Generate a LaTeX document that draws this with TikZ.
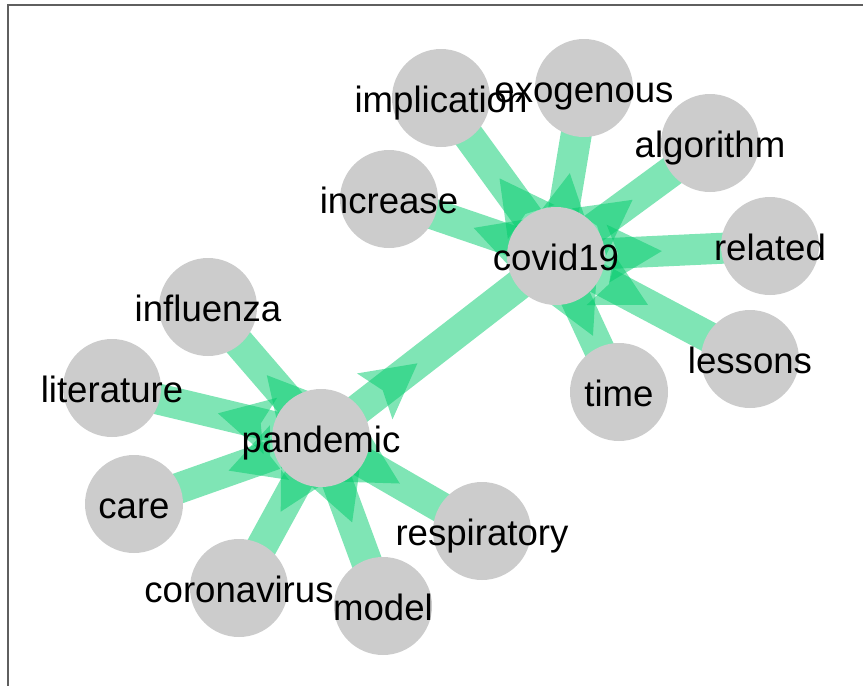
\documentclass[tikz,border=0pt]{standalone}
\usepackage{fontspec}
\setmainfont{Liberation Sans}
\usetikzlibrary{calc}
\definecolor{flowgreen}{RGB}{0,203,107}
\definecolor{nodegray}{RGB}{204,204,204}
\definecolor{framegray}{RGB}{95,95,95}
\tikzstyle{term}=[circle, minimum size=98pt, inner sep=0pt, fill=nodegray]
\tikzstyle{word}=[inner sep=0pt, text height=28pt, text depth=0pt, font=\fontsize{36.6}{40}\selectfont]
\tikzset{flow/.style={opacity=.5, color=flowgreen}}
\tikzset{band/.style={flow, line width=31pt}}
% head of an edge: from, to, distance of the tip from the centre of "from"
\newcommand{\edgehead}[3]{%
  \pgfmathsetmacro\headback{#3-54}
  \pgfmathsetmacro\headnotch{#3-44}
  \coordinate (headtip) at ($(#1)!#3pt!(#2)$);
  \coordinate (headbase) at ($(#1)!\headback pt!(#2)$);
  \coordinate (headnotch) at ($(#1)!\headnotch pt!(#2)$);
  \fill[flow] (headtip) -- ($(headbase)!29pt!90:(#2)$) -- (headnotch)
    -- ($(headbase)!29pt!-90:(#2)$) -- cycle;
}

\begin{document}
\begin{tikzpicture}[x=1pt,y=-1pt]
  \useasboundingbox (0,0) rectangle (863,686);
  \draw[framegray, line width=2pt] (863,5) -- (8,5) -- (8,686);

  %% Vertices (drawn later, placed first)
  \path (556,256) coordinate (covid);
  \path (321,438) coordinate (pandemic);
  \path (441,98) coordinate (implication);
  \path (584,88) coordinate (exogenous);
  \path (710,143) coordinate (algorithm);
  \path (389,199) coordinate (increase);
  \path (770,246) coordinate (related);
  \path (750,359) coordinate (lessons);
  \path (619,392) coordinate (time);
  \path (208,307) coordinate (influenza);
  \path (112,388) coordinate (literature);
  \path (134,504) coordinate (care);
  \path (239,588) coordinate (coronavirus);
  \path (383,606) coordinate (model);
  \path (482,531) coordinate (respiratory);

  %% Edges
  \draw[band] (pandemic) -- (covid);
  \draw[band] (covid) -- (implication);
  \draw[band] (covid) -- (exogenous);
  \draw[band] (covid) -- (algorithm);
  \draw[band] (covid) -- (increase);
  \draw[band] (covid) -- (related);
  \draw[band] (covid) -- (lessons);
  \draw[band] (covid) -- (time);
  \draw[band] (pandemic) -- (influenza);
  \draw[band] (pandemic) -- (literature);
  \draw[band] (pandemic) -- (care);
  \draw[band] (pandemic) -- (coronavirus);
  \draw[band] (pandemic) -- (model);
  \draw[band] (pandemic) -- (respiratory);

  \edgehead{pandemic}{covid}{122}
  \edgehead{covid}{implication}{96}
  \edgehead{covid}{exogenous}{84}
  \edgehead{covid}{algorithm}{95}
  \edgehead{covid}{increase}{87}
  \edgehead{covid}{related}{106}
  \edgehead{covid}{lessons}{104}
  \edgehead{covid}{time}{88}
  \edgehead{pandemic}{influenza}{83}
  \edgehead{pandemic}{literature}{106}
  \edgehead{pandemic}{care}{98}
  \edgehead{pandemic}{coronavirus}{84}
  \edgehead{pandemic}{model}{90}
  \edgehead{pandemic}{respiratory}{91}

  %% Circles
  \draw (covid) node[term] (C1) {};
  \draw (pandemic) node[term] (P1) {};
  \draw (implication) node[term] (C2) {};
  \draw (exogenous) node[term] (C3) {};
  \draw (algorithm) node[term] (C4) {};
  \draw (increase) node[term] (C5) {};
  \draw (related) node[term] (C6) {};
  \draw (lessons) node[term] (C7) {};
  \draw (time) node[term] (C8) {};
  \draw (influenza) node[term] (P2) {};
  \draw (literature) node[term] (P3) {};
  \draw (care) node[term] (P4) {};
  \draw (coronavirus) node[term] (P5) {};
  \draw (model) node[term] (P6) {};
  \draw (respiratory) node[term] (P7) {};

  %% Labels
  \draw (C1) node[word] {covid19};
  \draw (P1) node[word] {pandemic};
  \draw (C2) node[word] {implication};
  \draw (C3) node[word] {exogenous};
  \draw (C4) node[word] {algorithm};
  \draw (C5) node[word] {increase};
  \draw (C6) node[word] {related};
  \draw (C7) node[word] {lessons};
  \draw (C8) node[word] {time};
  \draw (P2) node[word] {influenza};
  \draw (P3) node[word] {literature};
  \draw (P4) node[word] {care};
  \draw (P5) node[word] {coronavirus};
  \draw (P6) node[word] {model};
  \draw (P7) node[word] {respiratory};
\end{tikzpicture}
\end{document}
